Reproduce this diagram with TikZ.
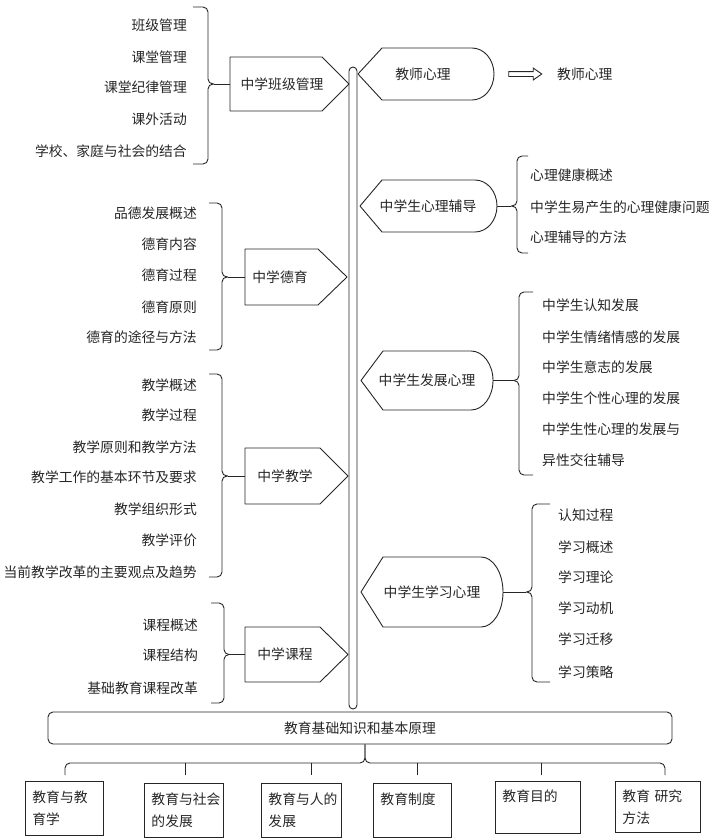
\documentclass[tikz,border=0pt]{standalone}
\usepackage{fontspec}
\setmainfont{Noto Sans CJK SC}
\usetikzlibrary{shapes.arrows}

\begin{document}
\begin{tikzpicture}[x=1pt, y=-1pt,
    % Styles for each element type
    every node/.style={font=\fontsize{13.8}{22}\selectfont, text=black!85, inner sep=0pt},
    lefttext/.style={anchor=east},
    righttext/.style={anchor=west},
    outline/.style={draw=black!85, line width=0.9pt, line join=round},
    brace/.style={draw=black!85, line width=0.9pt, rounded corners=5pt},
    link/.style={draw=black!85, line width=0.9pt},
    basebox/.style={draw=black!85, line width=0.9pt, rounded corners=5pt, minimum width=624pt, minimum height=32pt},
    bottombox/.style={draw=black!85, line width=0.9pt, anchor=north west, align=left, inner xsep=7pt, minimum height=54pt},
    hollowarrow/.style={single arrow, draw=black!85, line width=0.9pt, inner sep=2pt, minimum height=33pt, single arrow head extend=3.5pt, single arrow tip angle=70}
]
\useasboundingbox (0,0) rectangle (716,839);

% Central bar
\draw[outline, rounded corners=4pt] (349,67) rectangle (357,709);

% Left side - boxes pointing to the bar
\draw[outline] (230,57) -- (322,57) -- (349,84) -- (322,111) -- (230,111) -- cycle;
\node (banji) at (282,84) {中学班级管理};
\draw[outline] (245,249) -- (318,249) -- (347,277) -- (318,305) -- (245,305) -- cycle;
\node (deyu) at (280,277) {中学德育};
\draw[outline] (245,448) -- (320,448) -- (348,476) -- (320,504) -- (245,504) -- cycle;
\node (jiaoxue) at (285,476) {中学教学};
\draw[outline] (245,627) -- (320,627) -- (348,654.5) -- (320,682) -- (245,682) -- cycle;
\node (kecheng) at (285,654.5) {中学课程};

% Right side - shapes pointing to the bar
\draw[outline] (358,74) -- (382,48) -- (472,48) arc[start angle=90, end angle=-90, x radius=22pt, y radius=26pt] -- (382,100) -- cycle;
\node (jsxl) at (423,74) {教师心理};
\draw[outline] (360,206) -- (382,180) -- (475,180) arc[start angle=90, end angle=-90, x radius=22pt, y radius=26pt] -- (382,232) -- cycle;
\node (fudao) at (428,206) {中学生心理辅导};
\draw[outline] (361,380.5) -- (383,351) -- (471,351) arc[start angle=90, end angle=-90, x radius=22pt, y radius=29.5pt] -- (383,410) -- cycle;
\node (fazhan) at (427,380.5) {中学生发展心理};
\draw[outline] (361,592) -- (383,557) -- (481,557) arc[start angle=90, end angle=-90, x radius=22pt, y radius=35pt] -- (383,627) -- cycle;
\node (xuexi) at (432,592) {中学生学习心理};

% Connection points of the shapes
\coordinate (banji-in) at (230,84);
\coordinate (deyu-in) at (245,277);
\coordinate (jiaoxue-in) at (245,476);
\coordinate (kecheng-in) at (245,654.5);
\coordinate (fudao-out) at (497,206);
\coordinate (fazhan-out) at (493,380.5);
\coordinate (xuexi-out) at (503,592);

% Teacher psychology arrow
\node[hollowarrow] (jsarrow) at (523.5,74) {};
\node[righttext] (jsxl-1) at (557,74) {教师心理};

% Class management items
\node[lefttext] (banji-1) at (187,25) {班级管理};
\node[lefttext] (banji-2) at (187,57) {课堂管理};
\node[lefttext] (banji-3) at (187,87) {课堂纪律管理};
\node[lefttext] (banji-4) at (187,119) {课外活动};
\node[lefttext] (banji-5) at (187,151) {学校、家庭与社会的结合};
\coordinate (banji-tip) at (214,84);
\draw[brace] (193,7) -- (208,7) -- (208,84) -- (banji-tip);
\draw[brace] (193,164) -- (208,164) -- (208,84) -- (banji-tip);
\draw[link] (banji-tip) -- (banji-in);

% Moral education items
\node[lefttext] (deyu-1) at (197,213) {品德发展概述};
\node[lefttext] (deyu-2) at (197,244) {德育内容};
\node[lefttext] (deyu-3) at (197,275) {德育过程};
\node[lefttext] (deyu-4) at (197,307) {德育原则};
\node[lefttext] (deyu-5) at (197,337) {德育的途径与方法};
\coordinate (deyu-tip) at (228,277);
\draw[brace] (209,203) -- (222,203) -- (222,277) -- (deyu-tip);
\draw[brace] (209,350) -- (222,350) -- (222,277) -- (deyu-tip);
\draw[link] (deyu-tip) -- (deyu-in);

% Teaching items
\node[lefttext] (jiaoxue-1) at (197,385) {教学概述};
\node[lefttext] (jiaoxue-2) at (197,415) {教学过程};
\node[lefttext] (jiaoxue-3) at (197,447) {教学原则和教学方法};
\node[lefttext] (jiaoxue-4) at (197,477) {教学工作的基本环节及要求};
\node[lefttext] (jiaoxue-5) at (197,509) {教学组织形式};
\node[lefttext] (jiaoxue-6) at (197,540) {教学评价};
\node[lefttext] (jiaoxue-7) at (197,572) {当前教学改革的主要观点及趋势};
\coordinate (jiaoxue-tip) at (228,476);
\draw[brace] (209,374) -- (222,374) -- (222,476) -- (jiaoxue-tip);
\draw[brace] (209,577) -- (222,577) -- (222,476) -- (jiaoxue-tip);
\draw[link] (jiaoxue-tip) -- (jiaoxue-in);

% Curriculum items
\node[lefttext] (kecheng-1) at (198,625) {课程概述};
\node[lefttext] (kecheng-2) at (198,655) {课程结构};
\node[lefttext] (kecheng-3) at (198,688) {基础教育课程改革};
\coordinate (kecheng-tip) at (229,654.5);
\draw[brace] (211,603) -- (224,603) -- (224,654.5) -- (kecheng-tip);
\draw[brace] (211,703) -- (224,703) -- (224,654.5) -- (kecheng-tip);
\draw[link] (kecheng-tip) -- (kecheng-in);

% Counselling items
\node[righttext] (fudao-1) at (530,175) {心理健康概述};
\node[righttext] (fudao-2) at (530,207) {中学生易产生的心理健康问题};
\node[righttext] (fudao-3) at (530,237) {心理辅导的方法};
\coordinate (fudao-tip) at (511,206);
\draw[brace] (528,156) -- (517,156) -- (517,206) -- (fudao-tip);
\draw[brace] (528,253) -- (517,253) -- (517,206) -- (fudao-tip);
\draw[link] (fudao-out) -- (fudao-tip);

% Development items
\node[righttext] (fazhan-1) at (542,305) {中学生认知发展};
\node[righttext] (fazhan-2) at (542,337) {中学生情绪情感的发展};
\node[righttext] (fazhan-3) at (542,367) {中学生意志的发展};
\node[righttext] (fazhan-4) at (542,398) {中学生个性心理的发展};
\node[righttext] (fazhan-5) at (542,429) {中学生性心理的发展与};
\node[righttext] (fazhan-6) at (542,460) {异性交往辅导};
\coordinate (fazhan-tip) at (513,380.5);
\draw[brace] (533,292) -- (519,292) -- (519,380.5) -- (fazhan-tip);
\draw[brace] (533,475) -- (519,475) -- (519,380.5) -- (fazhan-tip);
\draw[link] (fazhan-out) -- (fazhan-tip);

% Learning items
\node[righttext] (xuexi-1) at (558,515) {认知过程};
\node[righttext] (xuexi-2) at (558,547) {学习概述};
\node[righttext] (xuexi-3) at (558,577) {学习理论};
\node[righttext] (xuexi-4) at (558,608) {学习动机};
\node[righttext] (xuexi-5) at (558,639) {学习迁移};
\node[righttext] (xuexi-6) at (558,672) {学习策略};
\coordinate (xuexi-tip) at (526,592);
\draw[brace] (550,504) -- (532,504) -- (532,592) -- (xuexi-tip);
\draw[brace] (550,682) -- (532,682) -- (532,592) -- (xuexi-tip);
\draw[link] (xuexi-out) -- (xuexi-tip);

% Base box
\node[basebox] (jichu) at (360,728) {教育基础知识和基本原理};

% Bottom row
\node[bottombox, minimum width=78pt, text width=64pt] (b1) at (25,781) {教育与教\\育学};
\node[bottombox, minimum width=79pt, text width=65pt] (b2) at (144,783) {教育与社会\\的发展};
\node[bottombox, minimum width=80pt, text width=66pt] (b3) at (261,783) {教育与人的\\发展};
\node[bottombox, minimum width=78pt, text width=64pt] (b4) at (373,783) {教育制度\\\phantom{教}};
\node[bottombox, minimum width=85pt, text width=71pt, minimum height=52pt] (b5) at (495,781) {教育目的\\\phantom{教}};
\node[bottombox, minimum width=85pt, text width=71pt, minimum height=51pt] (b6) at (615,781) {教育 研究\\方法};

% Bracket from base box to bottom row
\coordinate (cusp) at (365,763);
\coordinate (t1) at (65,775);
\coordinate (t2) at (185,775);
\coordinate (t3) at (311,775);
\coordinate (t4) at (417,775);
\coordinate (t5) at (541,775);
\coordinate (t6) at (665,775);
\draw[brace] (t1) |- (cusp) -- (cusp |- jichu.south);
\draw[brace] (t6) |- (cusp) -- (cusp |- jichu.south);
\draw[link] (t2) -- (t2 |- cusp);
\draw[link] (t3) -- (t3 |- cusp);
\draw[link] (t4) -- (t4 |- cusp);
\draw[link] (t5) -- (t5 |- cusp);

\end{tikzpicture}
\end{document}
